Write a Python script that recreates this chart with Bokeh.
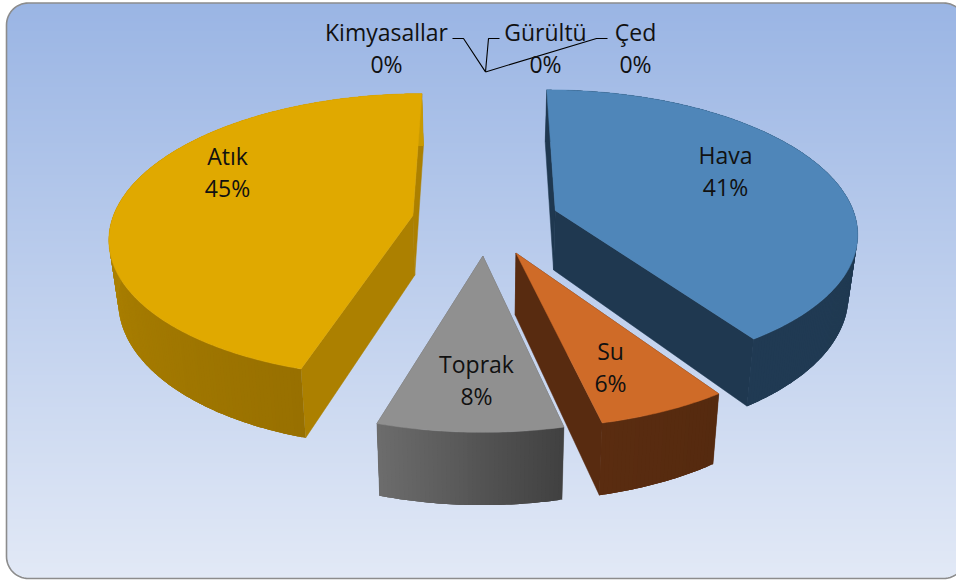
import numpy as np
from bokeh.embed import file_html
from bokeh.models import Range1d
from bokeh.plotting import figure
from bokeh.resources import INLINE
from bokeh.core.properties import value

slices = ["Hava", "Su", "Toprak", "Atık"]
shares = [40.5, 5.9, 8.3, 45.3]
zero_slices = ["Kimyasallar", "Gürültü", "Çed"]
zero_shares = [0.0, 0.0, 0.0]

top_colors = ["#4f86b9", "#cf6b28", "#909090", "#e0a900"]
face_colors = ["#1f3850", "#582b10", "#606060", "#ac8000"]
rim_start = ["#1f3850", "#552a0f", "#414141", "#987000"]
rim_end = ["#203a53", "#5a2c10", "#6c6c6c", "#c99a00"]
label_pos = [(725, 170), (610, 366), (476, 379), (227, 171)]
zero_pos = [(386, 47), (545, 47), (635, 47)]
elbows = [[(452, 38), (463, 38)], [(499, 38), (488, 38)], [(607, 38), (596, 38)]]

W, H = 956, 581
CX, VY, L, Q, R, EXPL, DROP, SHRINK = 485.0, -775.0, 995.0, 0.141, 301.0, 0.245, 60.0, 0.975
FONT = value("Open Sans")


def project(X, F, low=False):
    w = 1 - Q * F
    x = R * X / w
    y = VY + L / w
    if low:
        return CX + x * SHRINK, y + DROP / w
    return CX + x, y


def hex2rgb(c):
    return np.array([int(c[i:i + 2], 16) for i in (1, 3, 5)], float)


def mix(a, b, t):
    v = hex2rgb(a) * (1 - t) + hex2rgb(b) * t
    return "#%02x%02x%02x" % tuple(int(round(k)) for k in v)


p = figure(width=W, height=H, output_backend="svg", toolbar_location=None,
           x_range=Range1d(0, W), y_range=Range1d(H, 0), min_border=0)
p.axis.visible = False
p.grid.visible = False
p.outline_line_color = None
p.background_fill_color = "white"
p.border_fill_color = "white"

# rounded panel with a vertical gradient
LEFT, RIGHT, TOP, BOT, RAD = 6.0, 965.0, 2.5, 578.0, 22.0
rows = np.arange(TOP, BOT, 2.0)
ls, rs, cols = [], [], []
for y in rows:
    ym = y + 1
    d = max(TOP + RAD - ym, ym - (BOT - RAD), 0.0)
    inset = RAD - np.sqrt(max(RAD ** 2 - d ** 2, 0.0))
    ls.append(LEFT + inset)
    rs.append(RIGHT - inset)
    cols.append(mix("#9ab5e4", "#e2e9f6", (y - TOP) / (BOT - TOP)))
p.quad(left=ls, right=rs, top=rows, bottom=rows + 2, fill_color=cols, line_color=None)
a = np.linspace(0, np.pi / 2, 16)
bx = np.r_[LEFT + RAD - RAD * np.cos(a), RIGHT - RAD + RAD * np.sin(a),
           RIGHT - RAD + RAD * np.cos(a), LEFT + RAD - RAD * np.sin(a), LEFT]
by = np.r_[TOP + RAD - RAD * np.sin(a), TOP + RAD - RAD * np.cos(a),
           BOT - RAD + RAD * np.sin(a), BOT - RAD + RAD * np.cos(a), TOP + RAD]
p.line(bx, by, line_color="#8c8c8c", line_width=1.6)

# slices
edges = np.r_[0, np.cumsum(shares)] * 3.6
for i in [0, 3, 1, 2]:
    t0, t1 = np.radians(edges[i]), np.radians(edges[i + 1])
    mid = (t0 + t1) / 2
    ox, of = EXPL * np.sin(mid), -EXPL * np.cos(mid)
    th = np.linspace(t0, t1, max(int((edges[i + 1] - edges[i]) * 1.5), 24))
    ax, af = ox + np.sin(th), of - np.cos(th)
    tx, ty = project(ax, af)
    lx, ly = project(ax, af, True)
    ax0, ay0 = project(ox, of)
    bx0, by0 = project(ox, of, True)
    # radial cut faces
    for j in (0, -1):
        p.patch([ax0, tx[j], lx[j], bx0], [ay0, ty[j], ly[j], by0],
                fill_color=face_colors[i], line_color=face_colors[i], line_width=0.5)
    # outer wall: each band reaches two steps on so that later bands leave no seams
    n = len(th)
    for k in range(n - 1):
        e = min(k + 3, n - 1)
        c = mix(rim_start[i], rim_end[i], k / (n - 2))
        p.patch(np.r_[tx[k:e + 1], lx[k:e + 1][::-1]], np.r_[ty[k:e + 1], ly[k:e + 1][::-1]],
                fill_color=c, line_color=None)
    # top surface
    p.patch(np.r_[ax0, tx], np.r_[ay0, ty], fill_color=top_colors[i],
            line_color=top_colors[i], line_width=0.5)

# leaders for the empty slices
tipx, tipy = project(0.0, -1 - EXPL)
for el in elbows:
    p.line([el[0][0], el[1][0], tipx], [el[0][1], el[1][1], tipy], line_color="black", line_width=1.1)

names = slices + zero_slices
pcts = [f"{int(v + 0.5)}%" for v in shares + zero_shares]
pos = label_pos + zero_pos
p.text([q[0] for q in pos], [q[1] - 16 for q in pos], text=names,
       text_font=FONT, text_font_size="23px", text_color="#111111",
       text_align="center", text_baseline="middle")
p.text([q[0] for q in pos], [q[1] + 16 for q in pos], text=pcts,
       text_font=FONT, text_font_size="23px", text_color="#111111",
       text_align="center", text_baseline="middle")

html = file_html(p, INLINE)
html = html.replace("<head>", "<head><style>html,body{margin:0!important;overflow:hidden}</style>", 1)
open("out.html", "w").write(html)
